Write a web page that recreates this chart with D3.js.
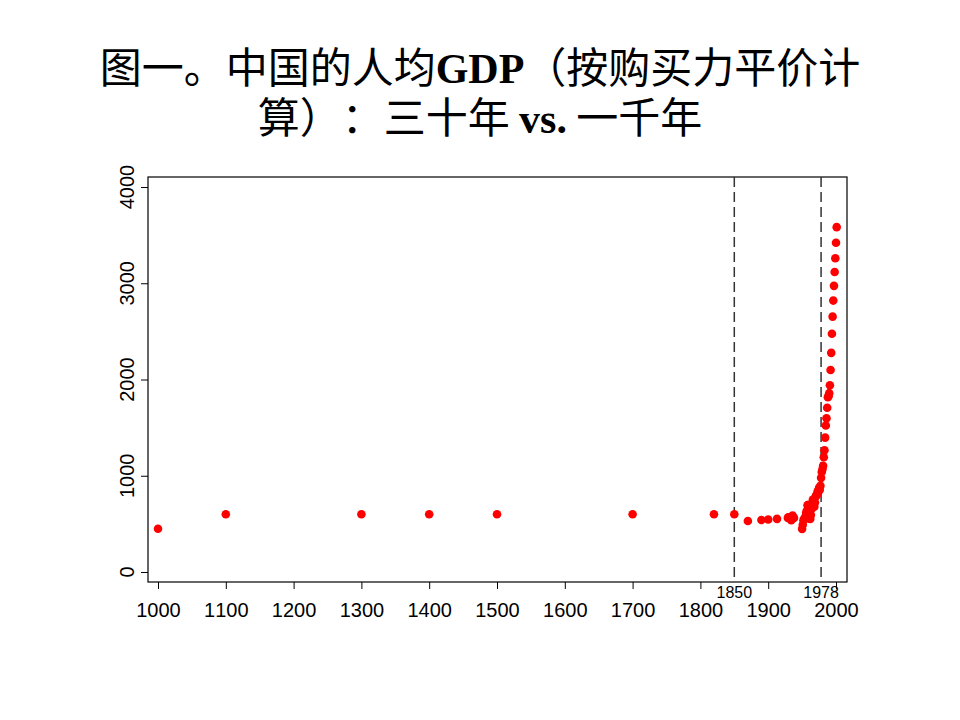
<!DOCTYPE html>
<html><head><meta charset="utf-8">
<script src="https://cdn.jsdelivr.net/npm/d3@7"></script>
<style>body{margin:0;background:#fff;} svg{display:block;} text{text-spacing-trim: space-all; font-kerning:none;}</style>
</head><body>
<svg id="chart" width="960" height="720"></svg>
<script>
const years = [1000,1100,1300,1400,1500,1700,1820,1850,1870,1890,1900,1913,
  1929,1930,1931,1932,1933,1934,1935,1936,1937,1938,
  1950,1951,1952,1953,1954,1955,1956,1957,1958,1959,1960,1961,1962,1963,1964,1965,1966,1967,1968,1969,
  1970,1971,1972,1973,1974,1975,1976,1977,1978,1979,1980,1981,1982,1983,1984,1985,1986,1987,1988,1989,
  1990,1991,1992,1993,1994,1995,1996,1997,1998,1999,2000,2001];
const gdp = [450,600,600,600,600,600,600,600,530,540,545,552,
  562,568,567,566,568,538,570,587,562,562,
  448,491,538,552,556,577,616,637,693,697,662,553,550,592,654,706,753,712,678,722,
  783,799,802,839,836,874,852,895,978,1039,1067,1103,1192,1265,1396,1522,1597,1706,1816,1827,
  1858,1940,2098,2277,2475,2653,2820,2973,3117,3259,3421,3583];
const xTicks = [1000,1100,1200,1300,1400,1500,1600,1700,1800,1900,2000];
const yTicks = [0,1000,2000,3000,4000];
const markYears = [1850,1978];
const titleLines = ["图一。中国的人均GDP（按购买力平价计", "算）：三十年 vs. 一千年"];

const svg = d3.select("#chart");
const x = d3.scaleLinear().domain([1000,2000]).range([158,836]);
const y = d3.scaleLinear().domain([0,4000]).range([572,187]);
const box = {l:148, t:177, r:847, b:582};

// Title
const cjk = "'Noto Sans CJK SC', 'Noto Sans CJK JP', sans-serif";
const latin = "'Liberation Serif', 'Times New Roman', serif";
function titleLine(str, yPos){
  const t = svg.append("text").attr("x",480).attr("y",yPos).attr("text-anchor","middle")
    .attr("font-size",42).attr("fill","#000");
  const parts = str.split(/(GDP|vs\.)/);
  parts.forEach(p=>{
    if(!p) return;
    const isLatin = (p==="GDP"||p==="vs.");
    t.append("tspan").text(p)
      .attr("font-family", isLatin?latin:cjk)
      .attr("font-weight", isLatin?"bold":"400");
  });
}
titleLine(titleLines[0], 83);
titleLine(titleLines[1], 133);

// Box
svg.append("rect").attr("x",box.l).attr("y",box.t).attr("width",box.r-box.l).attr("height",box.b-box.t)
  .attr("fill","none").attr("stroke","#000").attr("stroke-width",1.2);

// X axis
const xAxis = d3.axisBottom(x).tickValues(xTicks).tickSize(7).tickPadding(14).tickFormat(d3.format("d"));
const gx = svg.append("g").attr("transform",`translate(0,${box.b})`).call(xAxis);
gx.select(".domain").remove();
gx.selectAll("line").attr("stroke","#000").attr("stroke-width",1);
gx.selectAll("text").attr("font-family","'Liberation Sans', Arial, sans-serif").attr("font-size",20).attr("fill","#000");

// Y axis
const yAxis = d3.axisLeft(y).tickValues(yTicks).tickSize(7).tickFormat(d3.format("d"));
const gy = svg.append("g").attr("transform",`translate(${box.l},0)`).call(yAxis);
gy.select(".domain").remove();
gy.selectAll("line").attr("stroke","#000").attr("stroke-width",1);
gy.selectAll("text").remove();
svg.append("g").selectAll("text").data(yTicks).join("text")
  .attr("transform", d=>`translate(134,${y(d)}) rotate(-90)`)
  .attr("text-anchor","middle")
  .attr("font-family","'Liberation Sans', Arial, sans-serif").attr("font-size",20).attr("fill","#000")
  .text(d=>d);

// Dashed reference lines
svg.append("g").selectAll("line").data(markYears).join("line")
  .attr("x1",d=>x(d)).attr("x2",d=>x(d)).attr("y1",box.t).attr("y2",box.b)
  .attr("stroke","#333").attr("stroke-width",1.5).attr("stroke-dasharray","10,5");
svg.append("g").selectAll("text").data(markYears).join("text")
  .attr("x",d=>x(d)).attr("y",598).attr("text-anchor","middle")
  .attr("font-family","'Liberation Sans', Arial, sans-serif").attr("font-size",16).attr("fill","#000")
  .text(d=>d);

// Points
svg.append("g").selectAll("circle").data(years.map((yr,i)=>({yr, v:gdp[i]}))).join("circle")
  .attr("cx",d=>x(d.yr)).attr("cy",d=>y(d.v)).attr("r",4.3).attr("fill","#ff0000");
</script>
</body></html>
